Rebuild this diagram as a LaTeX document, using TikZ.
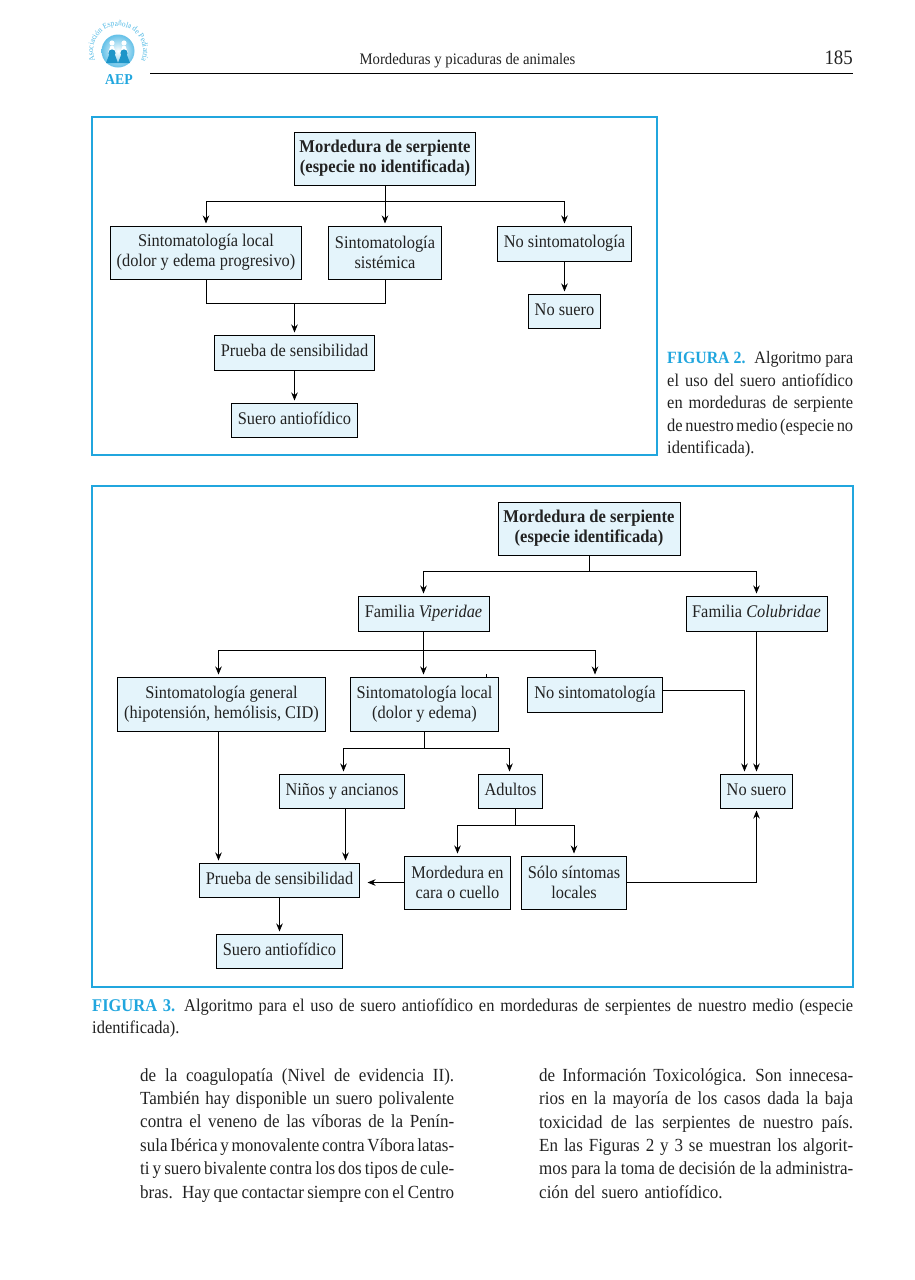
\documentclass[tikz,border=0pt]{standalone}
\usepackage{fontspec}
\setmainfont[FakeStretch=0.92]{Liberation Serif}
\usepackage{xcolor}
\usetikzlibrary{arrows.meta,
positioning,
decorations.text}
\definecolor{aepblue}{HTML}{21A6DE}
\definecolor{boxblue}{HTML}{E4F4FB}
\definecolor{inktext}{HTML}{222222}
\newcommand{\fullline}[1]{\hbox to \linewidth{\spaceskip=0.24em plus 0.3em minus 0.1em\relax #1}}

\begin{document}
\begin{tikzpicture}[
				x=1pt,y=-1pt,
				every node/.style={text=inktext},
				flowbox/.style={
					draw=black,
					fill=boxblue,
					inner sep=0pt,
					outer sep=0pt,
					align=center,
					line width=0.8pt,
					font=\fontsize{17.8}{20}\selectfont
				},
				onebox/.style={
					flowbox,
					text height=12pt,
					text depth=4pt
				},
				titlebox/.style={
					flowbox,
					font=\fontsize{18}{20}\selectfont\bfseries
				},
				frame/.style={
					draw=aepblue,
					line width=2pt
				},
				link/.style={
					draw=black,
					line width=0.8pt
				},
				flow/.style={
					link,
					-{Stealth[length=8pt,width=6.5pt]},
					shorten >=2.5pt
				},
				captext/.style={
					anchor=north west,
					inner sep=0pt,
					align=left,
					font=\fontsize{17.9}{22.5}\selectfont
				},
				bodytext/.style={
					captext,
					font=\fontsize{18.5}{23.4}\selectfont
				}
				]
				\useasboundingbox (0,0) rectangle (915,1280);

				% page header
				\node[inner sep=0pt, font=\fontsize{16}{20}\selectfont] (runhead) at (467.5,61) {Mordeduras y picaduras de animales};
				\node[inner sep=0pt, anchor=east, font=\fontsize{20.5}{20}\selectfont] (pageno) at (853,57.5) {185};
				\coordinate (ruleL) at (150,73);
				\coordinate (ruleR) at (853,73);
				\draw[line width=0.9pt] (ruleL) -- (ruleR);

				% logo
				\node[circle, minimum size=33pt, inner sep=0pt, inner color=white, outer color=aepblue!70] (logo) at (118,51) {};
				\foreach \px in {112,124}{
					\fill[white] (\px,43) circle (2.6pt) ++(-4,10) -- ++(8,0) -- ++(-2.5,-7) -- ++(-3,0) -- cycle;
					\fill[aepblue!90!black] (\px,53) circle (3.6pt) ++(-6,10) -- ++(12,0) -- ++(-3,-8) -- ++(-6,0) -- cycle;
				}
				\path[decorate, decoration={text along path, text align=center,
					text={|\fontsize{8}{8}\selectfont\color{aepblue!80}|Asociación Española de Pediatría}}]
					(96.5,63.5) arc[start angle=150, end angle=390, radius=25];
				\node[inner sep=0pt, text=aepblue, font=\fontsize{15}{15}\selectfont\bfseries] (aep) at (119,80) {AEP};

				% figure 2
				\node[frame, minimum width=565pt, minimum height=338pt, inner sep=0pt] (frameA) at (374.5,286) {};
				\node[titlebox, minimum width=181pt, minimum height=53pt] (biteA) at (385,158.5) {Mordedura de serpiente\\(especie no identificada)};
				\node[flowbox, minimum width=113pt, minimum height=53pt, below=41pt of biteA] (sysA) {Sintomatología\\sistémica};
				\node[flowbox, minimum width=191pt, minimum height=53pt, left=27pt of sysA] (localA) {Sintomatología local\\(dolor y edema progresivo)};
				\node[onebox, minimum width=134pt, minimum height=35pt, right=56pt of sysA.north east, anchor=north west] (noneA) {No sintomatología};
				\node[onebox, minimum width=72pt, minimum height=34pt, below=33pt of noneA] (noserumA) {No suero};
				\node[onebox, minimum width=160pt, minimum height=35pt] (testA) at (294.5,352.5) {Prueba de sensibilidad};
				\node[onebox, minimum width=126pt, minimum height=34pt, below=33pt of testA] (serumA) {Suero antiofídico};

				\coordinate[below=16pt of biteA] (forkA);
				\coordinate[below=24pt of sysA] (joinA);
				\draw[link] (biteA) -- (forkA);
				\draw[flow] (forkA) -| (localA.north);
				\draw[flow] (forkA) -- (sysA.north);
				\draw[flow] (forkA) -| (noneA.north);
				\draw[flow] (noneA) -- (noserumA);
				\draw[link] (localA.south) |- (joinA) -- (sysA.south);
				\draw[flow] (joinA -| testA.north) -- (testA.north);
				\draw[flow] (testA) -- (serumA);

				\node[captext, text width=186pt] (capA) at (667,351.5) {
					\fullline{\textcolor{aepblue}{\textbf{\fontsize{17.2}{22.5}\selectfont FIGURA 2.}} \fontsize{17.5}{22.5}\selectfont Algoritmo para}
					\fullline{el uso del suero antiofídico}
					\fullline{en mordeduras de serpiente}
					\fullline{de nuestro medio (especie no}
					\hbox{identificada).}};

				% figure 3
				\node[frame, minimum width=761pt, minimum height=501pt, inner sep=0pt] (frameB) at (472.5,736.5) {};
				\node[titlebox, minimum width=182pt, minimum height=53pt] (biteB) at (589,528.5) {Mordedura de serpiente\\(especie identificada)};
				\node[onebox, minimum width=131pt, minimum height=35pt, below=41pt of biteB, xshift=-165.5pt] (viper) {Familia \textit{Viperidae}};
				\node[onebox, minimum width=141pt, minimum height=35pt, below=41pt of biteB, xshift=167.5pt] (colub) {Familia \textit{Colubridae}};
				\node[flowbox, minimum width=148pt, minimum height=54pt, below=46pt of viper, xshift=1pt] (localB) {Sintomatología local\\(dolor y edema)};
				\node[flowbox, minimum width=208pt, minimum height=54pt, left=25pt of localB] (general) {Sintomatología general\\(hipotensión, hemólisis, CID)};
				\node[onebox, minimum width=135pt, minimum height=35pt, right=29pt of localB.north east, anchor=north west] (noneB) {No sintomatología};
				\node[onebox, minimum width=72pt, minimum height=34pt, below=143pt of colub] (noserumB) {No suero};
				\node[onebox, minimum width=125pt, minimum height=34pt, below=43pt of localB, xshift=-82.5pt] (kids) {Niños y ancianos};
				\node[onebox, minimum width=64pt, minimum height=34pt, below=43pt of localB, xshift=86pt] (adults) {Adultos};
				\node[flowbox, minimum width=106pt, minimum height=53pt, below=48pt of adults, xshift=-53pt] (face) {Mordedura en\\cara o cuello};
				\node[flowbox, minimum width=105pt, minimum height=53pt, right=11pt of face] (mild) {Sólo síntomas\\locales};
				\node[onebox, minimum width=160pt, minimum height=34pt, left=45pt of face, yshift=2.5pt] (testB) {Prueba de sensibilidad};
				\node[onebox, minimum width=126pt, minimum height=34pt, below=37pt of testB] (serumB) {Suero antiofídico};

				\coordinate[below=16pt of biteB] (forkB);
				\coordinate[below=19pt of viper] (forkC);
				\coordinate[below=17pt of localB] (forkD);
				\coordinate[below=17pt of adults, xshift=5pt] (forkE);
				\coordinate (tick) at (486.5,674);
				\draw[link] (biteB) -- (forkB);
				\draw[flow] (forkB) -| (viper.north);
				\draw[flow] (forkB) -| (colub.north);
				\draw[link] (viper) -- (forkC);
				\draw[flow] (forkC) -| ([xshift=-3pt]general.north);
				\draw[flow] (forkC) -- (viper.south |- localB.north);
				\draw[flow] (forkC) -| (noneB.north);
				\draw[link] (tick) -- (tick |- localB.north);
				\draw[flow] ([xshift=-3pt]general.south) -- ([xshift=-3pt]general.south |- testB.north);
				\draw[link] (localB) -- (forkD);
				\draw[flow] (forkD) -| ([xshift=1.5pt]kids.north);
				\draw[flow] (forkD) -| ([xshift=-1pt]adults.north);
				\draw[flow] ([xshift=3.5pt]kids.south) -- ([xshift=3.5pt]kids.south |- testB.north);
				\draw[link] (forkE |- adults.south) -- (forkE);
				\draw[flow] (forkE) -| (face.north);
				\draw[flow] (forkE) -| (mild.north);
				\draw[flow, shorten >=8pt] (face.west) -- (face.west -| testB.east);
				\draw[flow] (testB) -- (serumB);
				\draw[flow] (colub) -- (noserumB);
				\draw[flow] ([yshift=4.5pt]noneB.east) -| ([xshift=-12pt]noserumB.north);
				\draw[flow] (mild.east) -| (noserumB.south);

				\node[captext, text width=761pt] (capB) at (92,998.5) {
					\fullline{\textcolor{aepblue}{\textbf{FIGURA 3.}} Algoritmo para el uso de suero antiofídico en mordeduras de serpientes de nuestro medio (especie}
					\hbox{identificada).}};

				% body text
				\node[bodytext, text width=314pt] (colL) at (140,1068) {
					\fullline{de la coagulopatía (Nivel de evidencia II).}
					\fullline{También hay disponible un suero polivalente}
					\fullline{contra el veneno de las víboras de la Penín-}
					\fullline{sula Ibérica y monovalente contra Víbora latas-}
					\fullline{ti y suero bivalente contra los dos tipos de cule-}
					\fullline{bras. Hay que contactar siempre con el Centro}};
				\node[bodytext, text width=314pt] (colR) at (539,1068) {
					\fullline{de Información Toxicológica. Son innecesa-}
					\fullline{rios en la mayoría de los casos dada la baja}
					\fullline{toxicidad de las serpientes de nuestro país.}
					\fullline{En las Figuras 2 y 3 se muestran los algorit-}
					\fullline{mos para la toma de decisión de la administra-}
					\hbox{ción del suero antiofídico.}};
			\end{tikzpicture}
\end{document}
